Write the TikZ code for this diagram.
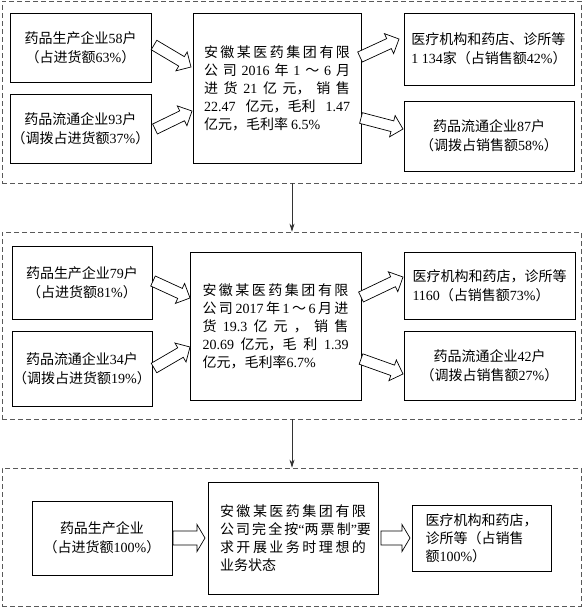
\documentclass[tikz,border=0pt]{standalone}
\usepackage{fontspec}
\setmainfont{Noto Sans CJK SC}
\newfontfamily\tnr{Liberation Serif}
\newcommand\nm[1]{{\tnr #1}}
\newcommand\jl[1]{\makebox[146pt][s]{#1}}
\usetikzlibrary{calc,arrows.meta}
\newcommand\blockarrow[5]{%
  \coordinate (hb) at ($(#2)!#5!(#1)$);
  \draw[blk] ($(#1)!#3!90:(#2)$) -- ($(hb)!#3!90:(#2)$) -- ($(hb)!#4!90:(#2)$) -- (#2)
    -- ($(hb)!#4!-90:(#2)$) -- ($(hb)!#3!-90:(#2)$) -- ($(#1)!#3!-90:(#2)$) -- cycle;}
\begin{document}
\begin{tikzpicture}[x=1pt,y=-1pt,
  box/.style={draw=black, line width=0.9pt, inner sep=0pt, font=\fontsize{14}{19}\selectfont, align=center},
  cbox/.style={box, font=\fontsize{14}{18}\selectfont, align=left},
  lbox/.style={box, align=left},
  panel/.style={draw=black!65, dash pattern=on 5pt off 3pt, line width=0.7pt, inner sep=0pt},
  blk/.style={draw=black, line width=0.7pt, fill=white, line join=miter},
  conn/.style={draw=black!80, line width=0.8pt, -{Stealth[length=8pt,width=5pt]}}]
\useasboundingbox (0,0) rectangle (583,608);
% panels
\node[panel, minimum width=579pt, minimum height=182pt] (p1) at (291.5,92) {};
\node[panel, minimum width=579pt, minimum height=187pt] (p2) at (291.5,325.5) {};
\node[panel, minimum width=579pt, minimum height=138pt] (p3) at (291.5,537) {};
% panel 1
\node[box, minimum width=141pt, minimum height=69pt] (a1) at (80.5,47.5) {药品生产企业\nm{58}户\\（占进货额\nm{63\%}）};
\node[box, minimum width=141pt, minimum height=69pt] (a2) at (80.5,128.5) {药品流通企业\nm{93}户\\（调拨占进货额\nm{37\%}）};
\node[cbox, minimum width=168pt, minimum height=150pt] (c1) at (277,88) {%
\jl{安 徽 某 医 药 集 团 有 限}\\
\jl{公 司 \nm{2016} 年 \nm{1} ～ \nm{6} 月}\\
\jl{进 货 \nm{21} 亿 元， 销 售}\\
\jl{\nm{22.47} 亿元，毛利 \nm{1.47}}\\
\makebox[146pt][l]{亿元，毛利率 \nm{6.5\%}}};
\node[lbox, minimum width=170pt, minimum height=72pt] (r1) at (489,49) {医疗机构和药店、诊所等\\\nm{1 134}家（占销售额\nm{42\%}）};
\node[box, minimum width=170pt, minimum height=70pt] (r2) at (489,136) {药品流通企业\nm{87}户\\（调拨占销售额\nm{58\%}）};
% panel 2
\node[box, minimum width=140pt, minimum height=73pt] (a3) at (82,282.5) {药品生产企业\nm{79}户\\（占进货额\nm{81\%}）};
\node[box, minimum width=140pt, minimum height=75pt] (a4) at (82,368.5) {药品流通企业\nm{34}户\\（调拨占进货额\nm{19\%}）};
\node[cbox, minimum width=171pt, minimum height=148pt] (c2) at (275.5,326) {%
\jl{安 徽 某 医 药 集 团 有 限}\\
\jl{公 司 \nm{2017} 年 \nm{1} ～ \nm{6} 月 进}\\
\jl{货 \nm{19.3} 亿 元 ， 销 售}\\
\jl{\nm{20.69} 亿元，毛 利 \nm{1.39}}\\
\makebox[146pt][l]{亿元，毛利率\nm{6.7\%}}};
\node[lbox, minimum width=171pt, minimum height=67pt] (r3) at (489.5,285.5) {医疗机构和药店，诊所等\\\nm{1160}（占销售额\nm{73\%}）};
\node[box, minimum width=171pt, minimum height=69pt] (r4) at (489.5,365.5) {药品流通企业\nm{42}户\\（调拨占销售额\nm{27\%}）};
% panel 3
\node[box, minimum width=140pt, minimum height=74pt] (a5) at (102,538) {药品生产企业\\（占进货额\nm{100\%}）};
\node[cbox, minimum width=170pt, minimum height=112pt] (c3) at (293,538) {%
\jl{安 徽 某 医 药 集 团 有 限}\\
\jl{公 司 完 全 按\nm{“}两 票 制\nm{”}要}\\
\jl{求 开 展 业 务 时 理 想 的}\\
\makebox[146pt][l]{业务状态}};
\node[cbox, minimum width=139pt, minimum height=66pt] (r5) at (481.5,538) {医疗机构和药店，\\诊所等（占销售\\额\nm{100\%}）};
% block arrows
\coordinate (t1) at (154,45);  \coordinate (h1) at (191,67);
\coordinate (t2) at (155,129); \coordinate (h2) at (192,111);
\coordinate (t3) at (360,57);  \coordinate (h3) at (399,39);
\coordinate (t4) at (361,118); \coordinate (h4) at (403,129);
\coordinate (t5) at (153,281); \coordinate (h5) at (190,298);
\coordinate (t6) at (154,368); \coordinate (h6) at (190,347);
\coordinate (t7) at (361,297); \coordinate (h7) at (403,277);
\coordinate (t8) at (361,359); \coordinate (h8) at (403,374);
\coordinate (t9) at (173,538); \coordinate (h9) at (205,538);
\coordinate (t10) at (381,538); \coordinate (h10) at (410,538);
\blockarrow{t1}{h1}{5.5pt}{11pt}{11pt}
\blockarrow{t2}{h2}{5.5pt}{11pt}{11pt}
\blockarrow{t3}{h3}{5.5pt}{11pt}{11pt}
\blockarrow{t4}{h4}{5.5pt}{11pt}{11pt}
\blockarrow{t5}{h5}{5.5pt}{11pt}{11pt}
\blockarrow{t6}{h6}{5.5pt}{11pt}{11pt}
\blockarrow{t7}{h7}{5.5pt}{11pt}{11pt}
\blockarrow{t8}{h8}{5.5pt}{11pt}{11pt}
\blockarrow{t9}{h9}{7pt}{13.5pt}{8pt}
\blockarrow{t10}{h10}{7pt}{13.5pt}{8pt}
% connectors between panels
\coordinate (v) at (292,0);
\draw[conn] (p1.south -| v) -- (p2.north -| v);
\draw[conn] (p2.south -| v) -- (p3.north -| v);
\end{tikzpicture}
\end{document}
